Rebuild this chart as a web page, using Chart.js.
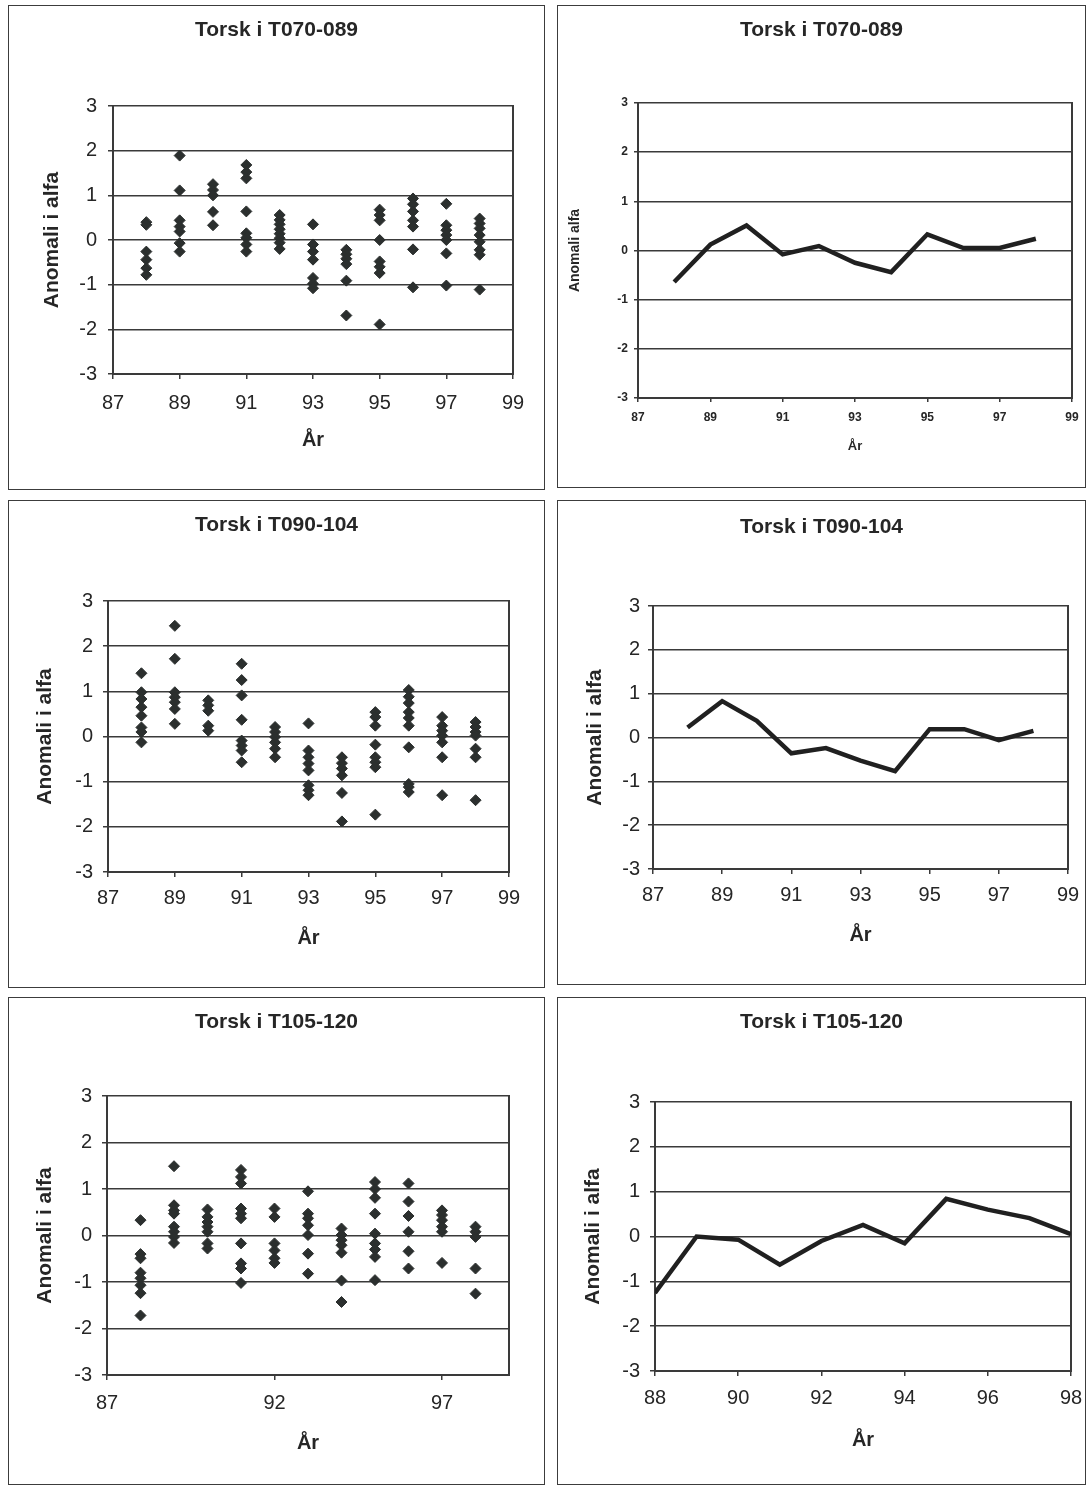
<!DOCTYPE html>
<html>
<head>
<meta charset="utf-8">
<script src="https://cdn.jsdelivr.net/npm/chart.js@4.4.0/dist/chart.umd.min.js"></script>
<style>
body { margin: 0; background: #fff; width: 1086px; height: 1485px; position: relative; overflow: hidden; }
.box { position: absolute; border: 1.5px solid #3c3c3c; box-sizing: border-box; }
canvas { position: absolute; }
</style>
</head>
<body>
<script>
// years on the x axis (19xx)
const years = [88, 89, 90, 91, 92, 93, 94, 95, 96, 97, 98];
const yTicks = [-3, -2, -1, 0, 1, 2, 3];
const xTicksOdd = [87, 89, 91, 93, 95, 97, 99];
const xTicksFive = [87, 92, 97];
const xTicksEven = [88, 90, 92, 94, 96, 98];

// single anomalies per year, one list per year
const t070Points = [
    [0.4, 0.34, -0.26, -0.44, -0.63, -0.78],
    [1.89, 1.11, 0.44, 0.3, 0.19, -0.07, -0.26],
    [1.25, 1.12, 1.0, 0.63, 0.33],
    [1.68, 1.52, 1.38, 0.64, 0.15, 0.05, -0.1, -0.26],
    [0.56, 0.45, 0.35, 0.24, 0.14, 0.04, -0.06, -0.2],
    [0.35, -0.1, -0.26, -0.44, -0.85, -0.98, -1.08],
    [-0.22, -0.32, -0.42, -0.54, -0.91, -1.69],
    [0.68, 0.56, 0.44, 0.0, -0.48, -0.6, -0.74, -1.89],
    [0.93, 0.8, 0.64, 0.44, 0.3, -0.21, -1.06],
    [0.81, 0.33, 0.22, 0.11, 0.0, -0.3, -1.02],
    [0.48, 0.37, 0.26, 0.11, -0.04, -0.22, -0.33, -1.11]
];
const t090Points = [
    [1.4, 0.98, 0.83, 0.65, 0.46, 0.2, 0.1, -0.13],
    [2.45, 1.72, 0.98, 0.87, 0.76, 0.61, 0.28],
    [0.8, 0.69, 0.57, 0.24, 0.13],
    [1.61, 1.25, 0.91, 0.37, -0.09, -0.2, -0.31, -0.57],
    [0.21, 0.1, -0.01, -0.13, -0.27, -0.46],
    [0.29, -0.31, -0.46, -0.6, -0.75, -1.08, -1.19, -1.3],
    [-0.46, -0.59, -0.71, -0.86, -1.25, -1.88],
    [0.54, 0.43, 0.24, -0.18, -0.46, -0.57, -0.68, -1.73],
    [1.03, 0.88, 0.74, 0.54, 0.41, 0.24, -0.24, -1.05, -1.12, -1.23],
    [0.43, 0.24, 0.13, 0.02, -0.13, -0.46, -1.3],
    [0.32, 0.21, 0.1, 0.02, -0.27, -0.46, -1.41]
];
const t105Points = [
    [0.33, -0.4, -0.49, -0.8, -0.92, -1.07, -1.24, -1.72],
    [1.49, 0.65, 0.54, 0.47, 0.19, 0.08, -0.03, -0.16],
    [0.56, 0.4, 0.29, 0.19, 0.08, -0.17, -0.28],
    [1.41, 1.26, 1.12, 0.58, 0.47, 0.37, -0.17, -0.6, -0.71, -1.02],
    [0.58, 0.4, -0.17, -0.32, -0.49, -0.59],
    [0.95, 0.47, 0.37, 0.22, 0.01, -0.39, -0.82],
    [0.15, 0.01, -0.1, -0.21, -0.37, -0.97, -1.43],
    [1.15, 1.0, 0.81, 0.47, 0.04, -0.17, -0.3, -0.46, -0.96],
    [1.12, 0.73, 0.42, 0.08, -0.34, -0.71],
    [0.54, 0.44, 0.33, 0.19, 0.08, -0.59],
    [0.19, 0.08, -0.03, -0.71, -1.25]
];

// yearly mean anomaly
const t070Mean = [-0.64, 0.12, 0.51, -0.08, 0.09, -0.25, -0.44, 0.33, 0.05, 0.05, 0.24];
const t090Mean = [0.23, 0.83, 0.38, -0.36, -0.24, -0.53, -0.77, 0.19, 0.19, -0.06, 0.15];
const t105Mean = [-1.26, 0.0, -0.07, -0.63, -0.1, 0.26, -0.15, 0.84, 0.6, 0.41, 0.05];

const FONT = "'Liberation Sans', Arial, sans-serif";
const INK = '#262626';
const GRID = '#3a3a3a';

function toScatter(lists) {
    const out = [];
    lists.forEach((vals, i) => vals.forEach(v => out.push({ x: years[i], y: v })));
    return out;
}

function toLine(vals) {
    return years.map((yr, i) => ({ x: yr, y: vals[i] }));
}

function addBox(b) {
    const d = document.createElement('div');
    d.className = 'box';
    d.style.left = b.x + 'px';
    d.style.top = b.y + 'px';
    d.style.width = b.w + 'px';
    d.style.height = b.h + 'px';
    document.body.appendChild(d);
}

function makeChart(c) {
    addBox(c.box);
    const canvas = document.createElement('canvas');
    canvas.width = c.box.w;
    canvas.height = c.box.h;
    canvas.style.left = c.box.x + 'px';
    canvas.style.top = c.box.y + 'px';
    document.body.appendChild(canvas);

    const b = c.box, p = c.plot, f = c.fonts;
    const tLh = f.title * 1.2, tickLh = f.tick * 1.2, axLh = f.axis * 1.2, yAxLh = (f.yAxis || f.axis) * 1.2;
    const titleTop = c.titleY - b.y - tLh / 2;
    const titleBottom = p.t - b.y - titleTop - tLh;
    const tl = c.tickLen || 5;
    const yLabPad = p.l - c.yLabRight - tl;
    const xLabPad = c.xLabY - p.b - tl - tickLh / 2;
    const xTitlePad = b.y + b.h - c.xTitleY - axLh / 2;
    const yTitlePad = c.yTitleX - b.x - yAxLh / 2;
    const tickFont = { family: FONT, size: f.tick, weight: f.tickBold ? 'bold' : 'normal' };

    const dataset = c.kind === 'scatter' ? {
        type: 'scatter',
        data: toScatter(c.values),
        pointStyle: 'rectRot',
        pointRadius: 5.5,
        backgroundColor: '#2b2f2e',
        borderColor: '#2b2f2e',
        borderWidth: 1
    } : {
        type: 'line',
        data: toLine(c.values),
        borderColor: '#202020',
        borderWidth: c.lineWidth || 4.5,
        pointRadius: 0,
        tension: 0,
        fill: false
    };

    new Chart(canvas, {
        data: { datasets: [dataset] },
        options: {
            responsive: false,
            animation: false,
            layout: { padding: 0 },
            plugins: {
                legend: { display: false },
                tooltip: { enabled: false },
                title: {
                    display: true,
                    text: c.title,
                    color: INK,
                    font: { family: FONT, size: f.title, weight: 'bold' },
                    padding: { top: titleTop, bottom: titleBottom }
                }
            },
            scales: {
                x: {
                    type: 'linear',
                    position: 'bottom',
                    min: c.xMin,
                    max: c.xMax,
                    afterBuildTicks: s => { s.ticks = c.xTicks.map(v => ({ value: v })); },
                    afterFit: s => { s.height = b.y + b.h - p.b; s.paddingLeft = 0; s.paddingRight = 0; },
                    grid: { drawOnChartArea: false, drawTicks: true, tickLength: tl, color: GRID, lineWidth: 1.5 },
                    border: { display: true, color: GRID, width: 2 },
                    ticks: { color: INK, font: tickFont, padding: xLabPad, maxRotation: 0, autoSkip: false },
                    title: {
                        display: true, text: 'År', color: INK,
                        font: { family: FONT, size: f.axis, weight: 'bold' },
                        padding: { top: xTitlePad, bottom: xTitlePad }
                    }
                },
                y: {
                    type: 'linear',
                    position: 'left',
                    min: -3,
                    max: 3,
                    afterBuildTicks: s => { s.ticks = yTicks.map(v => ({ value: v })); },
                    afterFit: s => { s.width = p.l - b.x; s.paddingTop = 0; s.paddingBottom = 0; },
                    grid: { drawOnChartArea: true, drawTicks: true, tickLength: tl, color: GRID, lineWidth: 1.5 },
                    border: { display: true, color: GRID, width: 2 },
                    ticks: { color: INK, font: tickFont, padding: yLabPad },
                    title: {
                        display: true, text: c.yTitle, color: INK,
                        font: { family: FONT, size: f.yAxis || f.axis, weight: 'bold' },
                        padding: { top: yTitlePad, bottom: yTitlePad }
                    }
                },
                y2: {
                    type: 'linear',
                    position: 'right',
                    min: -3,
                    max: 3,
                    afterFit: s => { s.width = b.x + b.w - p.r; s.paddingTop = 0; s.paddingBottom = 0; },
                    grid: { drawOnChartArea: false, drawTicks: false },
                    border: { display: true, color: GRID, width: 2 },
                    ticks: { display: false }
                }
            }
        }
    });
}

const bigFonts = { title: 21, tick: 20, tickBold: false, axis: 20, yAxis: 21 };

makeChart({
    kind: 'scatter', title: 'Torsk i T070-089', yTitle: 'Anomali i alfa', values: t070Points,
    xMin: 87, xMax: 99, xTicks: xTicksOdd,
    box: { x: 8, y: 5, w: 537, h: 485 }, plot: { l: 113, t: 106, r: 513, b: 374 },
    titleY: 30, yLabRight: 97, yTitleX: 52, xLabY: 403, xTitleY: 440, fonts: bigFonts
});
makeChart({
    kind: 'line', title: 'Torsk i T070-089', yTitle: 'Anomali alfa', values: t070Mean,
    xMin: 87, xMax: 99, xTicks: xTicksOdd, tickLen: 4,
    box: { x: 557, y: 5, w: 529, h: 483 }, plot: { l: 638, t: 103, r: 1072, b: 398 },
    titleY: 30, yLabRight: 628, yTitleX: 575, xLabY: 418, xTitleY: 446,
    fonts: { title: 21, tick: 12, tickBold: true, axis: 13, yAxis: 14 }
});
makeChart({
    kind: 'scatter', title: 'Torsk i T090-104', yTitle: 'Anomali i alfa', values: t090Points,
    xMin: 87, xMax: 99, xTicks: xTicksOdd,
    box: { x: 8, y: 500, w: 537, h: 488 }, plot: { l: 108, t: 601, r: 509, b: 872 },
    titleY: 525, yLabRight: 93, yTitleX: 45, xLabY: 898, xTitleY: 938, fonts: bigFonts
});
makeChart({
    kind: 'line', title: 'Torsk i T090-104', yTitle: 'Anomali i alfa', values: t090Mean,
    xMin: 87, xMax: 99, xTicks: xTicksOdd,
    box: { x: 557, y: 500, w: 529, h: 485 }, plot: { l: 653, t: 606, r: 1068, b: 869 },
    titleY: 527, yLabRight: 640, yTitleX: 595, xLabY: 895, xTitleY: 935, fonts: bigFonts
});
makeChart({
    kind: 'scatter', title: 'Torsk i T105-120', yTitle: 'Anomali i alfa', values: t105Points,
    xMin: 87, xMax: 99, xTicks: xTicksFive,
    box: { x: 8, y: 997, w: 537, h: 488 }, plot: { l: 107, t: 1096, r: 509, b: 1375 },
    titleY: 1022, yLabRight: 92, yTitleX: 45, xLabY: 1403, xTitleY: 1443, fonts: bigFonts
});
makeChart({
    kind: 'line', title: 'Torsk i T105-120', yTitle: 'Anomali i alfa', values: t105Mean,
    xMin: 88, xMax: 98, xTicks: xTicksEven,
    box: { x: 557, y: 997, w: 529, h: 488 }, plot: { l: 655, t: 1102, r: 1071, b: 1371 },
    titleY: 1022, yLabRight: 640, yTitleX: 593, xLabY: 1398, xTitleY: 1440, fonts: bigFonts
});
</script>
</body>
</html>
